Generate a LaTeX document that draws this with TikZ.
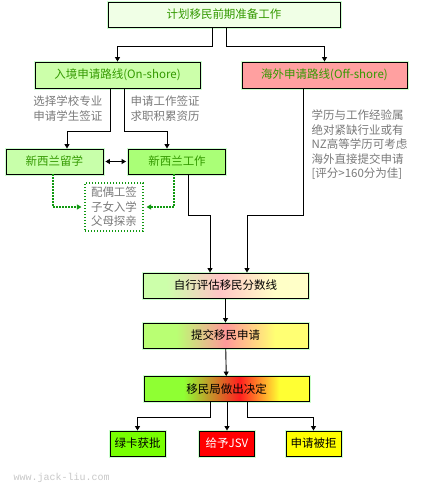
\documentclass[tikz,border=0pt]{standalone}
\usepackage{fontspec}
\setmainfont{Noto Sans CJK SC}
\newfontfamily\wmfont{Liberation Mono}
\usetikzlibrary{arrows.meta, positioning, calc}
\definecolor{cgtext}{HTML}{339900}
\definecolor{cgrey}{HTML}{7A7A7A}
\definecolor{chalo}{HTML}{CCFFCC}
\definecolor{cdot}{HTML}{119911}
\definecolor{ctop}{HTML}{F0FFE6}
\definecolor{con}{HTML}{CCFFAA}
\definecolor{coff}{HTML}{FFA0A0}
\definecolor{cstudy}{HTML}{C8FFAA}
\definecolor{cwork}{HTML}{AAFF77}
\definecolor{cok}{HTML}{77FF00}
\definecolor{cjsv}{HTML}{FF0000}
\definecolor{cno}{HTML}{FFFF00}
\definecolor{cwm}{HTML}{C8C8C8}
% gradients: the path spans 25bp..75bp
\pgfdeclarehorizontalshading{assessfill}{100bp}{color(0bp)=(con); color(32bp)=(con); color(48bp)=(coff!60!white); color(65bp)=(yellow!22!white); color(100bp)=(yellow!20!white)}
\pgfdeclarehorizontalshading{submitfill}{100bp}{color(0bp)=(green!50!yellow!55!white); color(35bp)=(green!50!yellow!55!white); color(50bp)=(red!40!white); color(65bp)=(yellow!55!white); color(100bp)=(yellow!55!white)}
\pgfdeclarehorizontalshading{decidefill}{100bp}{color(0bp)=(green!55!yellow!80!white); color(37bp)=(green!55!yellow!80!white); color(54bp)=(red!88!white); color(66bp)=(yellow!80!white); color(100bp)=(yellow!80!white)}
\tikzset{
  every picture/.style={x=1pt, y=-1pt, font=\fontsize{11.5}{14.5}\selectfont},
  box/.style={draw=black, fill=#1, line width=0.9pt, inner sep=0pt, align=center,
    preaction={draw=chalo, line width=3pt}},
  box/.default=white,
  arrow/.style={-{Triangle[length=4.5pt, width=5pt]}, draw=black, line width=0.9pt},
  dots/.style={draw=cdot, line width=1.1pt, dash pattern=on 1.1pt off 1.9pt},
  dotarrow/.style={dots, -{Triangle[length=4.5pt, width=5pt]}, shorten >=3pt},
  note/.style={text=cgrey, align=left},
}
\begin{document}
\begin{tikzpicture}[
  head/.style={box=#1, text=cgtext, minimum width=165pt, minimum height=26pt},
  place/.style={box=#1, text=cgtext, minimum width=97pt, minimum height=25pt},
  stage/.style={box, shade, shading=#1, minimum width=165pt, minimum height=25pt},
  result/.style={box=#1, minimum width=55pt, minimum height=25pt}]
  \useasboundingbox[fill=white] (0,0) rectangle (447,491);
  % ---------- planning
  \node[box=ctop, text=cgtext, minimum width=232pt, minimum height=25pt] (top) at (224,14.5) {计划移民前期准备工作};
  \node[head=con] (on) at (117.5,75) {入境申请路线(On-shore)};
  \node[head=coff] (off) at (324.5,75) {海外申请路线(Off-shore)};
  \draw[arrow] ([xshift=-12pt]top.south) -- ++(0,19) -| (on.north);
  \draw[arrow] ([xshift=2pt]top.south) -- ++(0,19) -| (off.north);
  % ---------- on-shore
  \node[note, align=right, anchor=east] (studynote) at (106,108.5) {选择学校专业\\申请学生签证};
  \node[note, anchor=west] (worknote) at (127,108.5) {申请工作签证\\求职积累资历};
  \node[place=cstudy] (study) at (54.5,161.5) {新西兰留学};
  \node[place=cwork] (work) at (177,161.5) {新西兰工作};
  \draw[arrow] ([xshift=-7.5pt]on.south) -- ++(0,43) -| ([xshift=12.5pt]study.north);
  \draw[arrow] ([xshift=6.5pt]on.south) -- ++(0,43) -| ([xshift=-10pt]work.north);
  \draw[arrow, {Triangle[length=4.5pt, width=5pt]}-{Triangle[length=4.5pt, width=5pt]}, shorten <=2pt, shorten >=2pt] (study) -- (work);
  \node[note, dots, minimum width=58pt, minimum height=48pt, inner sep=0pt] (family) at (114,207) {配偶工签\\子女入学\\父母探亲};
  \draw[dotarrow] ([xshift=-1.5pt]study.south) |- (family.west);
  \draw[dotarrow] ([xshift=-3pt]work.south) |- (family.east);
  % ---------- off-shore
  \node[note, anchor=west] (offnote) at (308,145) {学历与工作经验属\\绝对紧缺行业或有\\NZ高等学历可考虑\\海外直接提交申请\\{[}评分>160分为佳{]}};
  % ---------- application
  \node[stage=assessfill] (assess) at (225.5,285.5) {自行评估移民分数线};
  \node[stage=submitfill] (submit) at (225.5,335.5) {提交移民申请};
  \node[stage=decidefill] (decide) at (226.5,389) {移民局做出决定};
  \draw[arrow] ([xshift=11pt]work.south) -- ++(0,41) -| ([xshift=-15.5pt]assess.north);
  \draw[arrow] ([xshift=-21.5pt]off.south) -- ++(0,127) -| ([xshift=21.5pt]assess.north);
  \draw[arrow] (assess) -- (submit);
  \draw[arrow] (submit) -- (decide);
  % ---------- results
  \node[result=cok] (granted) at (137.5,443.5) {绿卡获批};
  \node[result=cjsv, text=white] (jsv) at (227,443.5) {给予JSV};
  \node[result=cno] (declined) at (313.5,443.5) {申请被拒};
  \draw[arrow] ([xshift=-16.5pt]decide.south) -- ++(0,15) -| (granted.north);
  \draw[arrow] (decide.south -| jsv.north) -- (jsv.north);
  \draw[arrow] ([xshift=20.5pt]decide.south) -- ++(0,15) -| (declined.north);
  \node[anchor=west, text=cwm, font=\wmfont\fontsize{10}{12}\selectfont] (wm) at (10,478) {www.jack-liu.com};
\end{tikzpicture}
\end{document}
